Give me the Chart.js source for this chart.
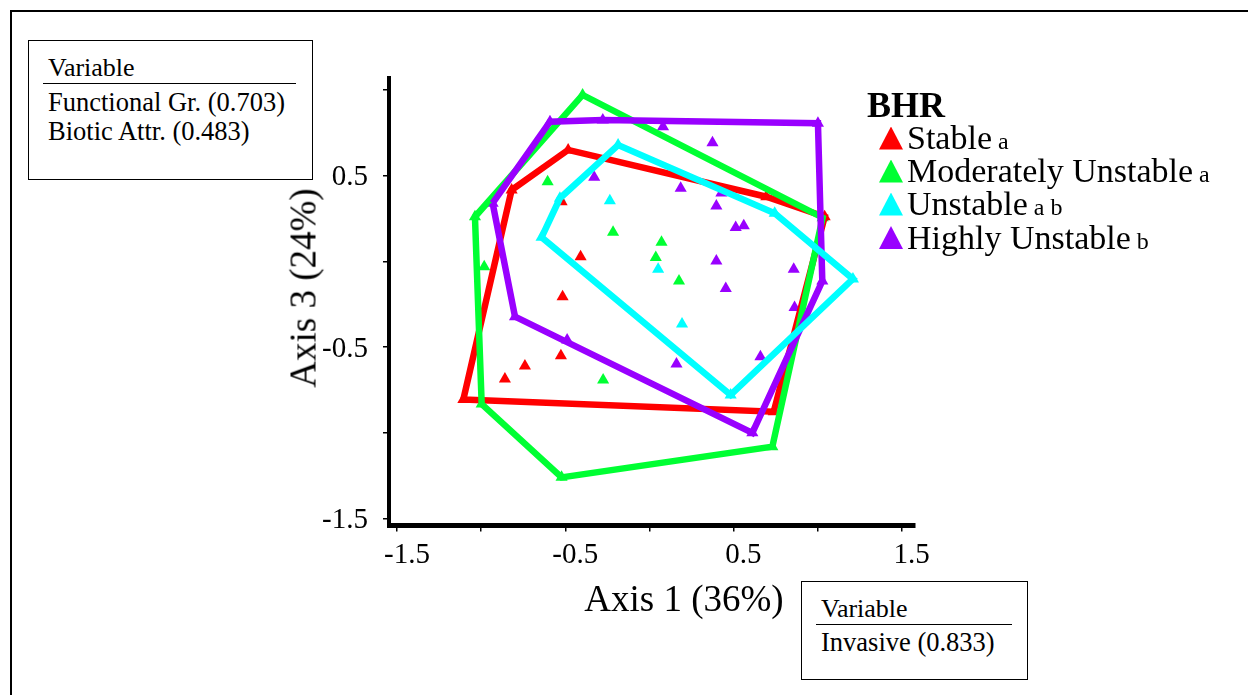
<!DOCTYPE html>
<html>
<head>
<meta charset="utf-8">
<script src="https://cdn.jsdelivr.net/npm/chart.js@4.4.1/dist/chart.umd.min.js"></script>
<style>
html,body{margin:0;padding:0;background:#fff;}
#wrap{position:relative;width:1248px;height:695px;overflow:hidden;font-family:"Liberation Serif","Times New Roman",serif;color:#000;}
#c{position:absolute;left:0;top:0;}
.frame{position:absolute;left:10px;top:10px;width:1400px;height:900px;border-left:2.5px solid #000;border-top:2.5px solid #000;}
.box{position:absolute;border:1.3px solid #000;background:#fff;box-sizing:border-box;}
.t{position:absolute;white-space:nowrap;line-height:1;font-family:"Liberation Serif","Times New Roman",serif;}
.rule{position:absolute;height:1.3px;background:#000;}
.tri{position:absolute;width:24px;height:23px;clip-path:polygon(50% 0,100% 100%,0 100%);}
.lg{font-size:34px;}
.sub{font-size:24px;}
</style>
</head>
<body>
<div id="wrap">
  <div class="frame"></div>
  <canvas id="c" width="1248" height="695"></canvas>

  <div class="box" style="left:28px;top:40px;width:285px;height:140px;"></div>
  <div class="t" style="left:48px;top:55px;font-size:26px;">Variable</div>
  <div class="rule" style="left:43px;top:83px;width:253px;"></div>
  <div class="t" style="left:48px;top:89px;font-size:26.5px;">Functional Gr. (0.703)</div>
  <div class="t" style="left:48px;top:118px;font-size:26.5px;">Biotic Attr. (0.483)</div>

  <div class="box" style="left:801px;top:581px;width:227px;height:99px;"></div>
  <div class="t" style="left:821px;top:596px;font-size:26px;">Variable</div>
  <div class="rule" style="left:816px;top:624px;width:196px;"></div>
  <div class="t" style="left:821px;top:628.5px;font-size:26.5px;">Invasive (0.833)</div>

  <div class="t" style="left:684px;top:598px;font-size:37px;transform:translate(-50%,-50%);">Axis 1 (36%)</div>
  <div class="t" style="left:303px;top:288px;font-size:37px;transform:translate(-50%,-50%) rotate(-90deg);">Axis 3 (24%)</div>

  <div class="t" style="left:867px;top:87px;font-size:36px;font-weight:bold;">BHR</div>
  <div id="legend"></div>
</div>
<script>
// ---- data ----
const groupNames = ['Stable', 'Moderately Unstable', 'Unstable', 'Highly Unstable'];
const groupLetters = ['a', 'a', 'a b', 'b'];
const groupColors = ['#ff0000', '#00ff33', '#00ffff', '#9900ff'];

const stableX = [-1.106, -0.819, -0.483, 0.695, 1.042, 0.739, -0.522, -0.409, -0.516, -0.526, -0.740, -0.859];
const stableY = [-0.806, 0.416, 0.650, 0.377, 0.260, -0.878, 0.348, 0.027, -0.207, -0.551, -0.611, -0.687];

const modUnstableX = [-1.037, -0.397, 1.030, 0.731, -0.522, -0.997, -0.605, -0.216, 0.072, 0.038, -0.982, 0.176, -0.275];
const modUnstableY = [0.260, 0.971, 0.255, -1.082, -1.261, -0.833, 0.465, 0.169, 0.111, 0.023, -0.032, -0.115, -0.693];

const unstableX = [-0.186, 0.745, 1.210, 0.483, -0.641, -0.532, -0.235, 0.052, 0.194];
const unstableY = [0.679, 0.280, -0.103, -0.780, 0.140, 0.368, 0.354, -0.047, -0.366];

const highUnstableX = [-0.591, -0.277, 1.002, 1.028, 0.612, -0.489, -0.799, -0.932, -0.328, 0.186, 0.428, 0.081, 0.375, 0.398, 0.513, 0.561, 0.398, 0.858, 0.454, 0.863, 0.161, 0.660];
const highUnstableY = [0.815, 0.825, 0.806, -0.115, -1.001, -0.459, -0.323, 0.339, 0.490, 0.426, 0.399, 0.786, 0.692, 0.323, 0.198, 0.208, 0.002, -0.047, -0.158, -0.269, -0.600, -0.557];

const xTickValues = [-1.5, -1, -0.5, 0, 0.5, 1, 1.5];
const xTickLabels = ['-1.5', '', '-0.5', '', '0.5', '', '1.5'];
const yTickValues = [-1.5, -1, -0.5, 0, 0.5, 1];
const yTickLabels = ['-1.5', '', '-0.5', '', '0.5', ''];

// ---- build ----
const groupsX = [stableX, modUnstableX, unstableX, highUnstableX];
const groupsY = [stableY, modUnstableY, unstableY, highUnstableY];

function toPts(xs, ys) { return xs.map((x, i) => ({x: x, y: ys[i]})); }
function hull(pts) {
  const p = pts.slice().sort((a, b) => a.x - b.x || a.y - b.y);
  const cross = (o, a, b) => (a.x - o.x) * (b.y - o.y) - (a.y - o.y) * (b.x - o.x);
  const lower = [];
  for (const q of p) { while (lower.length >= 2 && cross(lower[lower.length-2], lower[lower.length-1], q) <= 0) lower.pop(); lower.push(q); }
  const upper = [];
  for (let i = p.length - 1; i >= 0; i--) { const q = p[i]; while (upper.length >= 2 && cross(upper[upper.length-2], upper[upper.length-1], q) <= 0) upper.pop(); upper.push(q); }
  upper.pop(); lower.pop();
  const h = lower.concat(upper);
  h.push(h[0]);
  return h;
}

const hullOrder = [5, 4, 2, 3];
const datasets = [];
groupNames.forEach((name, g) => {
  const pts = toPts(groupsX[g], groupsY[g]);
  datasets.push({
    label: name, data: pts, pointStyle: 'triangle', pointRadius: 7,
    backgroundColor: groupColors[g], borderColor: groupColors[g], borderWidth: 0,
    showLine: false, order: 10
  });
  datasets.push({
    label: name + ' hull', data: hull(pts), showLine: true, pointRadius: 0,
    borderColor: groupColors[g], backgroundColor: groupColors[g], borderWidth: 6.5,
    borderJoinStyle: 'miter', tension: 0, fill: false, order: hullOrder[g]
  });
});

const fontFam = '"Liberation Serif","Times New Roman",serif';
function labelFor(values, labels) {
  return (v) => { const i = values.findIndex(t => Math.abs(t - v) < 1e-9); return i >= 0 ? labels[i] : ''; };
}

new Chart(document.getElementById('c'), {
  type: 'scatter',
  data: { datasets: datasets },
  options: {
    responsive: false, animation: false, devicePixelRatio: 1,
    layout: { padding: { left: 300, right: 333, top: 78, bottom: 100 } },
    plugins: { legend: { display: false }, tooltip: { enabled: false } },
    scales: {
      x: {
        type: 'linear', min: -1.548, max: 1.579,
        afterBuildTicks: (s) => { s.ticks = xTickValues.map(v => ({ value: v })); },
        afterFit: (s) => { s.height = 69.5; },
        grid: { display: true, drawOnChartArea: false, drawTicks: true, tickLength: 6, color: '#000', lineWidth: 1.5 },
        border: { display: true, color: '#000', width: 5 },
        ticks: { callback: labelFor(xTickValues, xTickLabels), font: { family: fontFam, size: 29 }, color: '#000', padding: 6, labelOffset: 10, maxRotation: 0, autoSkip: false }
      },
      y: {
        type: 'linear', min: -1.542, max: 1.07,
        afterBuildTicks: (s) => { s.ticks = yTickValues.map(v => ({ value: v })); },
        afterFit: (s) => { s.width = 89; },
        grid: { display: true, drawOnChartArea: false, drawTicks: true, tickLength: 6, color: '#000', lineWidth: 1.5 },
        border: { display: true, color: '#000', width: 4 },
        ticks: { callback: labelFor(yTickValues, yTickLabels), font: { family: fontFam, size: 29 }, color: '#000', padding: 15, labelOffset: 2, autoSkip: false }
      }
    }
  }
});

// ---- legend (HTML text) ----
const lg = document.getElementById('legend');
const centers = [138, 171, 204, 237.5];
groupNames.forEach((name, g) => {
  const tri = document.createElement('div');
  tri.className = 'tri';
  tri.style.left = '879px';
  tri.style.top = (centers[g] - 11.5) + 'px';
  tri.style.background = groupColors[g];
  lg.appendChild(tri);
  const t = document.createElement('div');
  t.className = 't lg';
  t.style.left = '907px';
  t.style.top = (centers[g] - 17) + 'px';
  t.innerHTML = name + '<span class="sub"> ' + groupLetters[g] + '</span>';
  lg.appendChild(t);
});
</script>
</body>
</html>
